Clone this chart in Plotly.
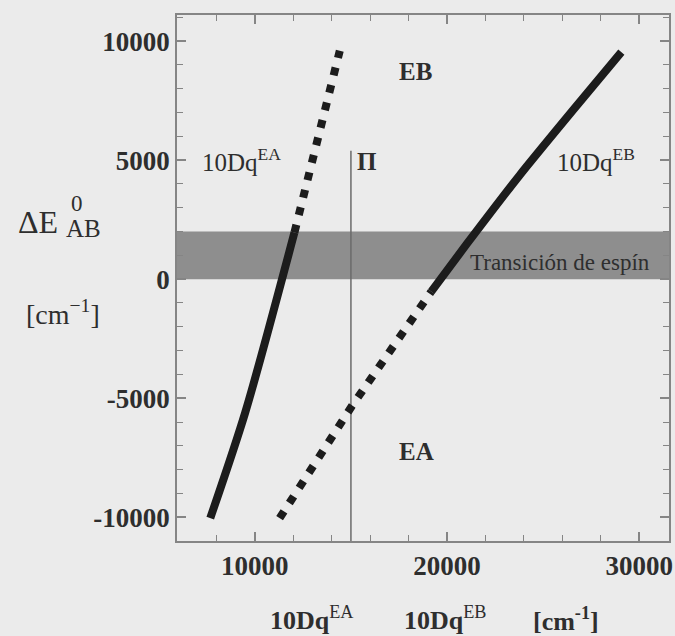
import plotly.graph_objects as go

# ---- data ----
ea_solid_x = [7680, 9500, 12060]
ea_solid_y = [-10040, -5600, 1960]
ea_dot_x = [12060, 13350, 14420]
ea_dot_y = [1960, 6300, 9600]

eb_dot_x = [11290, 15050, 19180]
eb_dot_y = [-10040, -5330, -520]
eb_solid_x = [19180, 21000, 23760, 26500, 29070]
eb_solid_y = [-520, 1450, 4350, 7050, 9540]

band_y = [0, 2000]            # spin-transition band
pi_x = [15000, 15000]         # vertical line Π
pi_y = [-11000, 5400]

x_tickvals = [10000, 20000, 30000]
x_ticktext = ["10000", "20000", "30000"]
y_tickvals = [10000, 5000, 0, -5000, -10000]
y_ticktext = ["10000", "5000", "0", "-5000", "-10000"]

x_range = [5950, 31550]
y_range = [-11000, 11100]

SERIF = "Liberation Serif, Times New Roman, serif"
INK = "#1c1c1c"
TXT = "#2e2e2e"
AX = "#858585"
BG = "#ebebeb"

fig = go.Figure()

fig.add_shape(type="rect", xref="x domain", yref="y", x0=0, x1=1,
              y0=band_y[0], y1=band_y[1], fillcolor="#8e8e8e",
              line=dict(width=0), layer="below")

fig.add_trace(go.Scatter(x=pi_x, y=pi_y, mode="lines",
                         line=dict(color="#6a6a6a", width=1.5),
                         hoverinfo="skip", showlegend=False))

fig.add_trace(go.Scatter(x=ea_solid_x, y=ea_solid_y, mode="lines",
                         line=dict(color=INK, width=8, shape="spline", smoothing=0.8),
                         showlegend=False))
fig.add_trace(go.Scatter(x=ea_dot_x, y=ea_dot_y, mode="lines",
                         line=dict(color=INK, width=8, dash="8px,10px"),
                         showlegend=False))
fig.add_trace(go.Scatter(x=eb_dot_x, y=eb_dot_y, mode="lines",
                         line=dict(color=INK, width=8, dash="8px,10px"),
                         showlegend=False))
fig.add_trace(go.Scatter(x=eb_solid_x, y=eb_solid_y, mode="lines",
                         line=dict(color=INK, width=8, shape="spline", smoothing=0.6),
                         showlegend=False))

def ann(text, x, y, size, xanchor="center", xref="x", yref="y", bold=False):
    if bold:
        text = "<b>" + text + "</b>"
    fig.add_annotation(text=text, x=x, y=y, xref=xref, yref=yref,
                       showarrow=False, xanchor=xanchor, yanchor="middle",
                       font=dict(family=SERIF, size=size, color=TXT))

# in-plot labels
ann("10Dq<sup>EA</sup>", 7150, 5000, 25, xanchor="left")
ann("10Dq<sup>EB</sup>", 25600, 5000, 25, xanchor="left")
ann("EB", 18360, 8740, 25, bold=True)
ann("EA", 18410, -7220, 25, bold=True)
ann("Π", 15800, 4950, 25, bold=True)
ann("Transición de espín", 21090, 700, 23, xanchor="left")

# y-axis title
ann("ΔE", -0.282, 0.607, 32, xref="paper", yref="paper")
ann("0", -0.204, 0.642, 23, xref="paper", yref="paper")
ann("AB", -0.19, 0.594, 25, xref="paper", yref="paper")
ann("[cm<sup>−1</sup>]", -0.232, 0.435, 28, xref="paper", yref="paper")

# x-axis title
ann("<b>10Dq</b><sup>EA</sup>", 0.275, -0.148, 26, xref="paper", yref="paper")
ann("<b>10Dq</b><sup>EB</sup>", 0.545, -0.148, 26, xref="paper", yref="paper")
ann("<b>[cm<sup>-1</sup>]</b>", 0.79, -0.15, 26, xref="paper", yref="paper")

axis_common = dict(showgrid=False, zeroline=False, showline=True,
                   linecolor=AX, linewidth=1.6, mirror="allticks",
                   ticks="inside", tickcolor=AX, tickwidth=1.5,
                   tickfont=dict(family=SERIF, size=27, color=TXT))

fig.update_xaxes(range=x_range, tickmode="array", tickvals=x_tickvals,
                 ticktext=["<b>%s</b>" % t for t in x_ticktext], ticklen=9,
                 minor=dict(dtick=2000, tick0=0, ticks="inside", ticklen=6,
                            tickcolor=AX, tickwidth=1.2),
                 **axis_common)
fig.update_yaxes(range=y_range, tickmode="array", tickvals=y_tickvals,
                 ticktext=["<b>%s</b>" % t for t in y_ticktext], ticklen=9,
                 minor=dict(dtick=1000, tick0=0, ticks="inside", ticklen=6,
                            tickcolor=AX, tickwidth=1.2),
                 **axis_common)

fig.update_layout(width=675, height=636,
                  margin=dict(l=177, r=2, t=15, b=95),
                  paper_bgcolor=BG, plot_bgcolor=BG,
                  showlegend=False)

fig.write_html("out.html")
